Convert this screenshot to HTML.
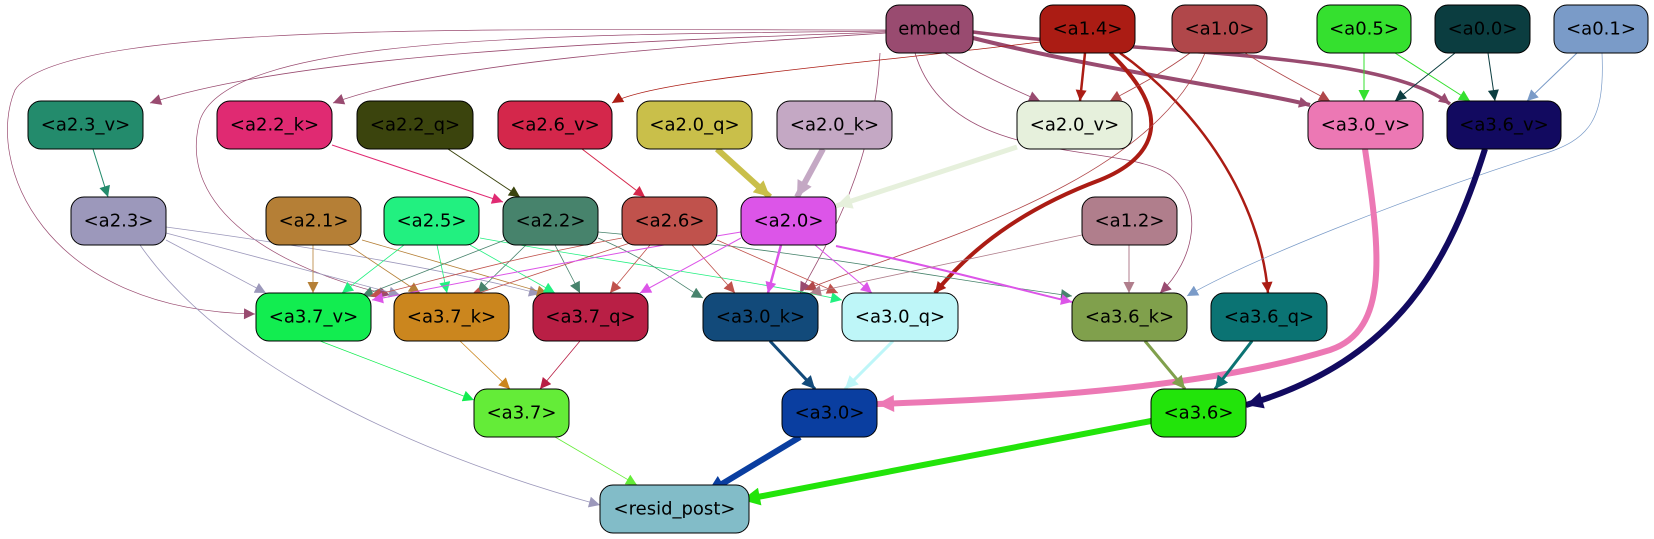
<!DOCTYPE html>
<html><head><meta charset="utf-8"><style>
html,body{margin:0;padding:0;background:#fff;}
svg{display:block;}
text{font-family:"DejaVu Sans","Liberation Sans",sans-serif;font-size:18px;fill:#000;text-anchor:middle;dominant-baseline:central;}
</style></head><body>
<svg width="1654" height="539" viewBox="0 0 1654 539" xmlns="http://www.w3.org/2000/svg">
<defs>
<marker id="emb" viewBox="0 0 10 10" refX="10" refY="5" markerWidth="14" markerHeight="11" orient="auto" markerUnits="userSpaceOnUse"><path d="M0,0L10,5L0,10z" fill="#994b70"/></marker>
<marker id="a14" viewBox="0 0 10 10" refX="10" refY="5" markerWidth="14" markerHeight="11" orient="auto" markerUnits="userSpaceOnUse"><path d="M0,0L10,5L0,10z" fill="#ab1c14"/></marker>
<marker id="a10" viewBox="0 0 10 10" refX="10" refY="5" markerWidth="14" markerHeight="11" orient="auto" markerUnits="userSpaceOnUse"><path d="M0,0L10,5L0,10z" fill="#b0474a"/></marker>
<marker id="a05" viewBox="0 0 10 10" refX="10" refY="5" markerWidth="14" markerHeight="11" orient="auto" markerUnits="userSpaceOnUse"><path d="M0,0L10,5L0,10z" fill="#35e02f"/></marker>
<marker id="a00" viewBox="0 0 10 10" refX="10" refY="5" markerWidth="14" markerHeight="11" orient="auto" markerUnits="userSpaceOnUse"><path d="M0,0L10,5L0,10z" fill="#0b3d40"/></marker>
<marker id="a01" viewBox="0 0 10 10" refX="10" refY="5" markerWidth="14" markerHeight="11" orient="auto" markerUnits="userSpaceOnUse"><path d="M0,0L10,5L0,10z" fill="#7a9bc8"/></marker>
<marker id="a23v" viewBox="0 0 10 10" refX="10" refY="5" markerWidth="14" markerHeight="11" orient="auto" markerUnits="userSpaceOnUse"><path d="M0,0L10,5L0,10z" fill="#238b6c"/></marker>
<marker id="a22k" viewBox="0 0 10 10" refX="10" refY="5" markerWidth="14" markerHeight="11" orient="auto" markerUnits="userSpaceOnUse"><path d="M0,0L10,5L0,10z" fill="#e02a72"/></marker>
<marker id="a22q" viewBox="0 0 10 10" refX="10" refY="5" markerWidth="14" markerHeight="11" orient="auto" markerUnits="userSpaceOnUse"><path d="M0,0L10,5L0,10z" fill="#3b440d"/></marker>
<marker id="a26v" viewBox="0 0 10 10" refX="10" refY="5" markerWidth="14" markerHeight="11" orient="auto" markerUnits="userSpaceOnUse"><path d="M0,0L10,5L0,10z" fill="#d4274b"/></marker>
<marker id="a20q" viewBox="0 0 10 10" refX="10" refY="5" markerWidth="18" markerHeight="16" orient="auto" markerUnits="userSpaceOnUse"><path d="M0,0L10,5L0,10z" fill="#c9bf4a"/></marker>
<marker id="a20k" viewBox="0 0 10 10" refX="10" refY="5" markerWidth="18" markerHeight="16" orient="auto" markerUnits="userSpaceOnUse"><path d="M0,0L10,5L0,10z" fill="#c4a8c4"/></marker>
<marker id="a20v" viewBox="0 0 10 10" refX="10" refY="5" markerWidth="18" markerHeight="16" orient="auto" markerUnits="userSpaceOnUse"><path d="M0,0L10,5L0,10z" fill="#e6f0dc"/></marker>
<marker id="a30v" viewBox="0 0 10 10" refX="10" refY="5" markerWidth="20" markerHeight="17" orient="auto" markerUnits="userSpaceOnUse"><path d="M0,0L10,5L0,10z" fill="#ec78b4"/></marker>
<marker id="a36v" viewBox="0 0 10 10" refX="10" refY="5" markerWidth="20" markerHeight="17" orient="auto" markerUnits="userSpaceOnUse"><path d="M0,0L10,5L0,10z" fill="#120a60"/></marker>
<marker id="a23" viewBox="0 0 10 10" refX="10" refY="5" markerWidth="14" markerHeight="11" orient="auto" markerUnits="userSpaceOnUse"><path d="M0,0L10,5L0,10z" fill="#9c98bb"/></marker>
<marker id="a21" viewBox="0 0 10 10" refX="10" refY="5" markerWidth="14" markerHeight="11" orient="auto" markerUnits="userSpaceOnUse"><path d="M0,0L10,5L0,10z" fill="#b57f36"/></marker>
<marker id="a25" viewBox="0 0 10 10" refX="10" refY="5" markerWidth="14" markerHeight="11" orient="auto" markerUnits="userSpaceOnUse"><path d="M0,0L10,5L0,10z" fill="#22f080"/></marker>
<marker id="a22" viewBox="0 0 10 10" refX="10" refY="5" markerWidth="14" markerHeight="11" orient="auto" markerUnits="userSpaceOnUse"><path d="M0,0L10,5L0,10z" fill="#47836c"/></marker>
<marker id="a26" viewBox="0 0 10 10" refX="10" refY="5" markerWidth="14" markerHeight="11" orient="auto" markerUnits="userSpaceOnUse"><path d="M0,0L10,5L0,10z" fill="#c0524c"/></marker>
<marker id="a20" viewBox="0 0 10 10" refX="10" refY="5" markerWidth="14" markerHeight="11" orient="auto" markerUnits="userSpaceOnUse"><path d="M0,0L10,5L0,10z" fill="#dc55e8"/></marker>
<marker id="a12" viewBox="0 0 10 10" refX="10" refY="5" markerWidth="14" markerHeight="11" orient="auto" markerUnits="userSpaceOnUse"><path d="M0,0L10,5L0,10z" fill="#b07e8c"/></marker>
<marker id="a37v" viewBox="0 0 10 10" refX="10" refY="5" markerWidth="14" markerHeight="11" orient="auto" markerUnits="userSpaceOnUse"><path d="M0,0L10,5L0,10z" fill="#12ed50"/></marker>
<marker id="a37k" viewBox="0 0 10 10" refX="10" refY="5" markerWidth="14" markerHeight="11" orient="auto" markerUnits="userSpaceOnUse"><path d="M0,0L10,5L0,10z" fill="#cb861e"/></marker>
<marker id="a37q" viewBox="0 0 10 10" refX="10" refY="5" markerWidth="14" markerHeight="11" orient="auto" markerUnits="userSpaceOnUse"><path d="M0,0L10,5L0,10z" fill="#b91f45"/></marker>
<marker id="a30k" viewBox="0 0 10 10" refX="10" refY="5" markerWidth="16" markerHeight="13" orient="auto" markerUnits="userSpaceOnUse"><path d="M0,0L10,5L0,10z" fill="#124a7a"/></marker>
<marker id="a30q" viewBox="0 0 10 10" refX="10" refY="5" markerWidth="16" markerHeight="13" orient="auto" markerUnits="userSpaceOnUse"><path d="M0,0L10,5L0,10z" fill="#bef6f8"/></marker>
<marker id="a36k" viewBox="0 0 10 10" refX="10" refY="5" markerWidth="16" markerHeight="13" orient="auto" markerUnits="userSpaceOnUse"><path d="M0,0L10,5L0,10z" fill="#80a04c"/></marker>
<marker id="a36q" viewBox="0 0 10 10" refX="10" refY="5" markerWidth="16" markerHeight="13" orient="auto" markerUnits="userSpaceOnUse"><path d="M0,0L10,5L0,10z" fill="#0b7373"/></marker>
<marker id="a37" viewBox="0 0 10 10" refX="10" refY="5" markerWidth="14" markerHeight="11" orient="auto" markerUnits="userSpaceOnUse"><path d="M0,0L10,5L0,10z" fill="#64ec38"/></marker>
<marker id="a30" viewBox="0 0 10 10" refX="10" refY="5" markerWidth="22" markerHeight="18" orient="auto" markerUnits="userSpaceOnUse"><path d="M0,0L10,5L0,10z" fill="#0a3ea0"/></marker>
<marker id="a36" viewBox="0 0 10 10" refX="10" refY="5" markerWidth="22" markerHeight="18" orient="auto" markerUnits="userSpaceOnUse"><path d="M0,0L10,5L0,10z" fill="#22e40a"/></marker>
</defs>
<g fill="none">
<path d="M886,32 C600,42 300,55 150,103" stroke="#994b70" stroke-width="0.8" marker-end="url(#emb)"/>
<path d="M886,33 C700,45 450,60 333,103" stroke="#994b70" stroke-width="0.8" marker-end="url(#emb)"/>
<path d="M886,30 C500,30 60,20 15,90 C-15,160 40,310 255,314" stroke="#994b70" stroke-width="0.7" marker-end="url(#emb)"/>
<path d="M886,31 C550,35 230,35 200,120 C175,210 280,270 390,295" stroke="#994b70" stroke-width="0.7" marker-end="url(#emb)"/>
<path d="M945,53 C980,75 1015,90 1040,101" stroke="#994b70" stroke-width="0.8" marker-end="url(#emb)"/>
<path d="M973,38 C1100,70 1250,90 1310,105" stroke="#994b70" stroke-width="4" marker-end="url(#emb)"/>
<path d="M973,32 C1150,55 1380,50 1450,104" stroke="#994b70" stroke-width="3.5" marker-end="url(#emb)"/>
<path d="M880,53 C875,160 830,240 800,293" stroke="#994b70" stroke-width="0.8" marker-end="url(#emb)"/>
<path d="M915,53 C950,170 1120,140 1170,175 C1205,205 1195,260 1160,293" stroke="#994b70" stroke-width="0.8" marker-end="url(#emb)"/>
<path d="M1040,42 C850,65 650,80 612,103" stroke="#ab1c14" stroke-width="0.8" marker-end="url(#a14)"/>
<path d="M1085,53 L1080,101" stroke="#ab1c14" stroke-width="2.5" marker-end="url(#a14)"/>
<path d="M1110,53 C1180,120 1150,160 1100,180 C1020,210 970,250 935,293" stroke="#ab1c14" stroke-width="4" marker-end="url(#a14)"/>
<path d="M1120,53 C1200,110 1260,200 1268,293" stroke="#ab1c14" stroke-width="2.5" marker-end="url(#a14)"/>
<path d="M1190,53 C1160,75 1130,90 1110,101" stroke="#b0474a" stroke-width="0.8" marker-end="url(#a10)"/>
<path d="M1245,53 C1280,75 1310,90 1330,101" stroke="#b0474a" stroke-width="0.8" marker-end="url(#a10)"/>
<path d="M1205,53 C1150,190 900,250 805,290" stroke="#b0474a" stroke-width="0.8" marker-end="url(#a10)"/>
<path d="M1364,53 L1364,101" stroke="#35e02f" stroke-width="1" marker-end="url(#a05)"/>
<path d="M1395,53 L1470,101" stroke="#35e02f" stroke-width="1" marker-end="url(#a05)"/>
<path d="M1455,53 L1395,101" stroke="#0b3d40" stroke-width="1" marker-end="url(#a00)"/>
<path d="M1488,53 L1495,101" stroke="#0b3d40" stroke-width="1" marker-end="url(#a00)"/>
<path d="M1577,53 L1527,101" stroke="#7a9bc8" stroke-width="1" marker-end="url(#a01)"/>
<path d="M1602,53 C1605,120 1590,140 1540,155 C1400,200 1250,260 1187,296" stroke="#7a9bc8" stroke-width="0.7" marker-end="url(#a01)"/>
<path d="M93,149 L108,197" stroke="#238b6c" stroke-width="1" marker-end="url(#a23v)"/>
<path d="M332,145 L503,202" stroke="#e02a72" stroke-width="1" marker-end="url(#a22k)"/>
<path d="M448,149 L520,197" stroke="#3b440d" stroke-width="1" marker-end="url(#a22q)"/>
<path d="M582,149 L645,197" stroke="#d4274b" stroke-width="1" marker-end="url(#a26v)"/>
<path d="M717,149 L770,197" stroke="#c9bf4a" stroke-width="6" marker-end="url(#a20q)"/>
<path d="M823,149 L797,197" stroke="#c4a8c4" stroke-width="6" marker-end="url(#a20k)"/>
<path d="M1017,147 L836,206" stroke="#e6f0dc" stroke-width="5" marker-end="url(#a20v)"/>
<path d="M166,240 L266,293" stroke="#9c98bb" stroke-width="0.8" marker-end="url(#a23)"/>
<path d="M166,233 L400,295" stroke="#9c98bb" stroke-width="0.8" marker-end="url(#a23)"/>
<path d="M166,227 C300,245 450,270 540,294" stroke="#9c98bb" stroke-width="0.8" marker-end="url(#a23)"/>
<path d="M140,245 C220,360 400,450 600,505" stroke="#9c98bb" stroke-width="0.8" marker-end="url(#a23)"/>
<path d="M313,245 L313,293" stroke="#b57f36" stroke-width="0.8" marker-end="url(#a21)"/>
<path d="M348,245 L420,293" stroke="#b57f36" stroke-width="0.8" marker-end="url(#a21)"/>
<path d="M362,240 L548,294" stroke="#b57f36" stroke-width="0.8" marker-end="url(#a21)"/>
<path d="M404,245 L342,293" stroke="#22f080" stroke-width="0.8" marker-end="url(#a25)"/>
<path d="M437,245 L447,293" stroke="#22f080" stroke-width="0.8" marker-end="url(#a25)"/>
<path d="M470,245 L555,293" stroke="#22f080" stroke-width="0.8" marker-end="url(#a25)"/>
<path d="M480,238 C600,260 750,280 842,300" stroke="#22f080" stroke-width="0.8" marker-end="url(#a25)"/>
<path d="M505,240 L362,296" stroke="#47836c" stroke-width="0.8" marker-end="url(#a22)"/>
<path d="M526,245 L477,293" stroke="#47836c" stroke-width="0.8" marker-end="url(#a22)"/>
<path d="M555,245 L580,293" stroke="#47836c" stroke-width="0.8" marker-end="url(#a22)"/>
<path d="M598,238 C650,260 680,285 703,298" stroke="#47836c" stroke-width="0.8" marker-end="url(#a22)"/>
<path d="M598,232 C800,250 950,280 1072,296" stroke="#47836c" stroke-width="0.8" marker-end="url(#a22)"/>
<path d="M622,238 C500,260 420,285 370,296" stroke="#c0524c" stroke-width="0.8" marker-end="url(#a26)"/>
<path d="M630,243 L470,296" stroke="#c0524c" stroke-width="0.8" marker-end="url(#a26)"/>
<path d="M650,245 L610,293" stroke="#c0524c" stroke-width="0.8" marker-end="url(#a26)"/>
<path d="M692,245 L735,293" stroke="#c0524c" stroke-width="0.8" marker-end="url(#a26)"/>
<path d="M717,240 L838,293" stroke="#c0524c" stroke-width="0.8" marker-end="url(#a26)"/>
<path d="M741,232 C600,255 450,285 372,300" stroke="#dc55e8" stroke-width="1" marker-end="url(#a20)"/>
<path d="M741,238 L640,293" stroke="#dc55e8" stroke-width="1" marker-end="url(#a20)"/>
<path d="M781,245 L768,293" stroke="#dc55e8" stroke-width="2.5" marker-end="url(#a20)"/>
<path d="M815,245 L872,293" stroke="#dc55e8" stroke-width="1" marker-end="url(#a20)"/>
<path d="M836,246 C950,270 1020,290 1072,302" stroke="#dc55e8" stroke-width="2" marker-end="url(#a20)"/>
<path d="M1082,235 L810,293" stroke="#b07e8c" stroke-width="0.8" marker-end="url(#a12)"/>
<path d="M1129,245 L1129,293" stroke="#b07e8c" stroke-width="1" marker-end="url(#a12)"/>
<path d="M320,341 L474,400" stroke="#12ed50" stroke-width="0.8" marker-end="url(#a37v)"/>
<path d="M460,341 L510,389" stroke="#cb861e" stroke-width="0.8" marker-end="url(#a37k)"/>
<path d="M580,341 L540,389" stroke="#b91f45" stroke-width="0.8" marker-end="url(#a37q)"/>
<path d="M770,341 L815,389" stroke="#124a7a" stroke-width="3" marker-end="url(#a30k)"/>
<path d="M893,341 L845,389" stroke="#bef6f8" stroke-width="3" marker-end="url(#a30q)"/>
<path d="M1365,149 C1380,250 1390,330 1330,350 C1200,390 1000,400 877,404" stroke="#ec78b4" stroke-width="6" marker-end="url(#a30v)"/>
<path d="M1145,341 L1185,389" stroke="#80a04c" stroke-width="3" marker-end="url(#a36k)"/>
<path d="M1252,341 L1215,389" stroke="#0b7373" stroke-width="3" marker-end="url(#a36q)"/>
<path d="M1485,149 C1450,260 1400,360 1246,405" stroke="#120a60" stroke-width="6" marker-end="url(#a36v)"/>
<path d="M555,437 L637,485" stroke="#64ec38" stroke-width="0.8" marker-end="url(#a37)"/>
<path d="M800,437 L707,493" stroke="#0a3ea0" stroke-width="6" marker-end="url(#a30)"/>
<path d="M1151,421 L742,500" stroke="#22e40a" stroke-width="6" marker-end="url(#a36)"/>
</g>
<g stroke="#000" stroke-width="1">
<rect x="886" y="5" width="87" height="48" rx="13" fill="#994b70"/>
<rect x="1040" y="5" width="95" height="48" rx="13" fill="#ab1c14"/>
<rect x="1172" y="5" width="95" height="48" rx="13" fill="#b0474a"/>
<rect x="1317" y="5" width="94" height="48" rx="13" fill="#35e02f"/>
<rect x="1435" y="5" width="95" height="48" rx="13" fill="#0b3d40"/>
<rect x="1554" y="5" width="94" height="48" rx="13" fill="#7a9bc8"/>
<rect x="28" y="101" width="115" height="48" rx="13" fill="#238b6c"/>
<rect x="217" y="101" width="115" height="48" rx="13" fill="#e02a72"/>
<rect x="357" y="101" width="116" height="48" rx="13" fill="#3b440d"/>
<rect x="498" y="101" width="114" height="48" rx="13" fill="#d4274b"/>
<rect x="637" y="101" width="115" height="48" rx="13" fill="#c9bf4a"/>
<rect x="777" y="101" width="115" height="48" rx="13" fill="#c4a8c4"/>
<rect x="1017" y="101" width="115" height="48" rx="13" fill="#e6f0dc"/>
<rect x="1308" y="101" width="115" height="48" rx="13" fill="#ec78b4"/>
<rect x="1447" y="101" width="114" height="48" rx="13" fill="#120a60"/>
<rect x="71" y="197" width="95" height="48" rx="13" fill="#9c98bb"/>
<rect x="266" y="197" width="95" height="48" rx="13" fill="#b57f36"/>
<rect x="384" y="197" width="95" height="48" rx="13" fill="#22f080"/>
<rect x="503" y="197" width="95" height="48" rx="13" fill="#47836c"/>
<rect x="622" y="197" width="95" height="48" rx="13" fill="#c0524c"/>
<rect x="741" y="197" width="95" height="48" rx="13" fill="#dc55e8"/>
<rect x="1082" y="197" width="95" height="48" rx="13" fill="#b07e8c"/>
<rect x="256" y="293" width="115" height="48" rx="13" fill="#12ed50"/>
<rect x="394" y="293" width="115" height="48" rx="13" fill="#cb861e"/>
<rect x="533" y="293" width="115" height="48" rx="13" fill="#b91f45"/>
<rect x="703" y="293" width="115" height="48" rx="13" fill="#124a7a"/>
<rect x="842" y="293" width="116" height="48" rx="13" fill="#bef6f8"/>
<rect x="1072" y="293" width="115" height="48" rx="13" fill="#80a04c"/>
<rect x="1211" y="293" width="116" height="48" rx="13" fill="#0b7373"/>
<rect x="474" y="389" width="95" height="48" rx="13" fill="#64ec38"/>
<rect x="782" y="389" width="95" height="48" rx="13" fill="#0a3ea0"/>
<rect x="1151" y="389" width="95" height="48" rx="13" fill="#22e40a"/>
<rect x="600" y="485" width="149" height="48" rx="13" fill="#82bcc8"/>
</g>
<text x="929.5" y="29">embed</text>
<text x="1087.5" y="29">&lt;a1.4&gt;</text>
<text x="1219.5" y="29">&lt;a1.0&gt;</text>
<text x="1364" y="29">&lt;a0.5&gt;</text>
<text x="1482.5" y="29">&lt;a0.0&gt;</text>
<text x="1601" y="29">&lt;a0.1&gt;</text>
<text x="85.5" y="125">&lt;a2.3_v&gt;</text>
<text x="274.5" y="125">&lt;a2.2_k&gt;</text>
<text x="415" y="125">&lt;a2.2_q&gt;</text>
<text x="555" y="125">&lt;a2.6_v&gt;</text>
<text x="694.5" y="125">&lt;a2.0_q&gt;</text>
<text x="834.5" y="125">&lt;a2.0_k&gt;</text>
<text x="1074.5" y="125">&lt;a2.0_v&gt;</text>
<text x="1365.5" y="125">&lt;a3.0_v&gt;</text>
<text x="1504" y="125">&lt;a3.6_v&gt;</text>
<text x="118.5" y="221">&lt;a2.3&gt;</text>
<text x="313.5" y="221">&lt;a2.1&gt;</text>
<text x="431.5" y="221">&lt;a2.5&gt;</text>
<text x="550.5" y="221">&lt;a2.2&gt;</text>
<text x="669.5" y="221">&lt;a2.6&gt;</text>
<text x="788.5" y="221">&lt;a2.0&gt;</text>
<text x="1129.5" y="221">&lt;a1.2&gt;</text>
<text x="313.5" y="317">&lt;a3.7_v&gt;</text>
<text x="451.5" y="317">&lt;a3.7_k&gt;</text>
<text x="590.5" y="317">&lt;a3.7_q&gt;</text>
<text x="760.5" y="317">&lt;a3.0_k&gt;</text>
<text x="900" y="317">&lt;a3.0_q&gt;</text>
<text x="1129.5" y="317">&lt;a3.6_k&gt;</text>
<text x="1269" y="317">&lt;a3.6_q&gt;</text>
<text x="521.5" y="413">&lt;a3.7&gt;</text>
<text x="829.5" y="413">&lt;a3.0&gt;</text>
<text x="1198.5" y="413">&lt;a3.6&gt;</text>
<text x="674.5" y="509">&lt;resid_post&gt;</text>
</svg>
</body></html>
